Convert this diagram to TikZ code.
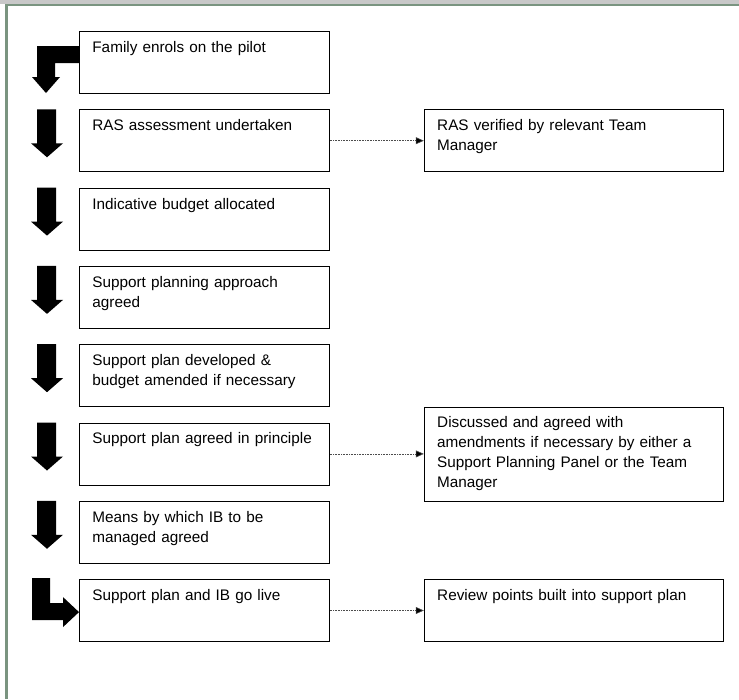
\documentclass[tikz,border=0pt]{standalone}
\usepackage{fontspec}
\setmainfont{Liberation Sans}
\usetikzlibrary{positioning,arrows.meta,calc}
\definecolor{framegreen}{RGB}{122,148,128}
\definecolor{framegray}{RGB}{200,200,200}
\tikzstyle{stage} = [
draw=black,
line width=0.8pt,
align=left,
text width=224pt,
inner xsep=13pt,
inner ysep=0pt,
text height=21pt,
text depth=41pt,
font=\fontsize{15.3}{20}\selectfont
]
\tikzstyle{check} = [
stage,
text width=273pt
]
\tikzstyle{link} = [
densely dotted,
line width=0.6pt,
draw=black!70,
-{Triangle[length=8pt,width=7pt,fill=black]}
]

\begin{document}
\begin{tikzpicture}[
	x=1pt,
	y=-1pt,
	node distance=15.5pt
	]
	\useasboundingbox (0,0) rectangle (739,699);
	% page frame
	\fill[framegray] (0,0) rectangle (739,3.5);
	\fill[framegreen] (5,3.5) rectangle (739,6);
	\fill[framegreen] (5,3.5) rectangle (7.5,699);
	
	\node[stage,anchor=north west] (s1) at (79,31) {Family enrols on the pilot};
	\node[stage,below=of s1] (s2) {RAS assessment undertaken};
	\node[stage,below=of s2] (s3) {Indicative budget allocated};
	\node[stage,below=of s3] (s4) {Support planning approach\\agreed};
	\node[stage,below=of s4] (s5) {Support plan developed \&\\budget amended if necessary};
	\node[stage,below=of s5] (s6) {Support plan agreed in principle};
	\node[stage,below=of s6] (s7) {Means by which IB to be\\managed agreed};
	\node[stage,below=of s7] (s8) {Support plan and IB go live};
	
	\node[check,right=94pt of s2] (r2) {RAS verified by relevant Team\\Manager};
	\node[check,right=94pt of s6,text depth=73pt] (r6) {Discussed and agreed with\\amendments if necessary by either a\\Support Planning Panel or the Team\\Manager};
	\node[check,right=94pt of s8] (r8) {Review points built into support plan};
	
	\path[link] (s2) edge (r2);
	\path[link] (s6) edge (r6);
	\path[link] (s8) edge (r8);
	
	% block arrows
	\fill[shift={(s1.north west)}] (0,15) -- (-42,15) -- (-42,46) -- (-47,46)
		-- (-33,62) -- (-19,46) -- (-24,46) -- (-24,32) -- (0,32) -- cycle;
	\foreach \n in {2,...,7}
		\fill[shift={(s\n.north west)}] (-42,0) -- (-23,0) -- (-23,34) -- (-16,34)
			-- (-32,48) -- (-48,34) -- (-42,34) -- cycle;
	\fill[shift={(s8.north west)}] (-47,-1) -- (-29,-1) -- (-29,24) -- (-16,24)
		-- (-16,18) -- (0,33) -- (-16,48) -- (-16,41) -- (-47,41) -- cycle;
\end{tikzpicture}
\end{document}
